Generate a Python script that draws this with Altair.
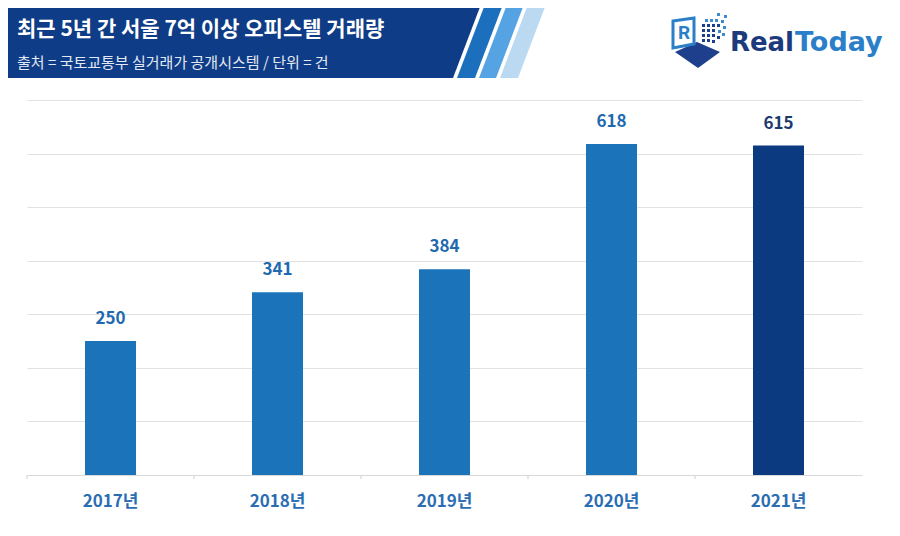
import altair as alt
import pandas as pd

# ---- data ----
years = ["2017년", "2018년", "2019년", "2020년", "2021년"]
counts = [250, 341, 384, 618, 615]
bar_colors = ["#1b74ba", "#1b74ba", "#1b74ba", "#1b74ba", "#0b3a80"]
label_colors = ["#2069b0", "#2069b0", "#2069b0", "#2069b0", "#1c3a6e"]
y_ticks = [0, 100, 200, 300, 400, 500, 600, 700]

title_text = "최근 5년 간 서울 7억 이상 오피스텔 거래량"
subtitle_text = "출처 = 국토교통부 실거래가 공개시스템 / 단위 = 건"
logo_a = "Real"
logo_b = "Today"
logo_r = "R"

df = pd.DataFrame({"year": years, "count": counts,
                   "bar_color": bar_colors, "label_color": label_colors})

W, H = 835, 375
FONT = "Noto Sans CJK KR"
STEP = W / len(years)

x_enc = alt.X("year:N", sort=years, title=None,
              scale=alt.Scale(paddingInner=0, paddingOuter=0),
              axis=alt.Axis(labelAngle=0, ticks=False, grid=False,
                            domainColor="#d9d9d9", domainWidth=1.2,
                            labelFont=FONT, labelFontSize=17,
                            labelFontWeight="bold", labelColor="#2a6db3",
                            labelPadding=18))
y_enc = alt.Y("count:Q", title=None, scale=alt.Scale(domain=[0, 700]),
              axis=alt.Axis(values=y_ticks, labels=False, ticks=False,
                            domain=False, grid=True, gridColor="#e2e2e2",
                            gridWidth=1.2))

base = alt.Chart(df)
bars = base.mark_bar(width=51).encode(
    x=x_enc, y=y_enc, color=alt.Color("bar_color:N", scale=None))
values = base.mark_text(baseline="middle", dy=-22, font=FONT, fontSize=17,
                        fontWeight="bold").encode(
    x=alt.X("year:N", sort=years), y="count:Q", text="count:Q",
    color=alt.Color("label_color:N", scale=None))
xticks = base.mark_rule(xOffset=-STEP / 2, color="#d6d6d6", strokeWidth=1.2).encode(
    x=alt.X("year:N", sort=years), y=alt.value(H), y2=alt.value(H + 4))


# ---- decorations (pixel positions relative to plot origin) ----
def shape(path, fill=None, stroke=None, sw=0, px=0, py=0):
    kw = dict(shape=path, size=4, opacity=1, strokeWidth=sw)
    if fill:
        kw.update(filled=True, fill=fill)
    else:
        kw.update(filled=False, fill="transparent", stroke=stroke)
    return alt.Chart(alt.Data(values=[{"k": 1}])).mark_point(**kw).encode(
        x=alt.value(px), y=alt.value(py))


def label(text, px, py, **kw):
    return alt.Chart(alt.Data(values=[{"t": text}])).mark_text(**kw).encode(
        x=alt.value(px), y=alt.value(py), text="t:N")


banner = shape("M-21,-93 L453,-93 L426,-22 L-21,-22 Z", fill="#0f3c86")
stripe1 = shape("M457,-93 L475,-93 L448,-22 L430,-22 Z", fill="#1c6fbd")
stripe2 = shape("M479,-93 L496,-93 L469,-22 L452,-22 Z", fill="#56a3e3")
stripe3 = shape("M500,-93 L518,-93 L491,-22 L473,-22 Z", fill="#bcd9f2")

title_l = label(title_text, -10, -70, align="left", baseline="middle", font=FONT,
                fontSize=21, fontWeight="bold", color="white")
sub_l = label(subtitle_text, -10, -37, align="left", baseline="middle", font=FONT,
              fontSize=15, color="#e3e9f3")

# logo
icon_face = shape("M-23,10 L-1,0 L22,10 L0,26 Z", fill="#1d3f8c", px=671, py=-58)
icon_box = shape("M-25,-21 L-4,-24 L-4,2 L-25,6 Z", stroke="#2a7fc8", sw=3,
                 px=671, py=-58)
icon_dots_a = shape(
    "M19,-29 h3 v3 h-3 Z M26,-27 h3 v3 h-3 Z "
    "M7,-23 h3 v3 h-3 Z M12,-23 h3 v3 h-3 Z M17,-23 h3 v3 h-3 Z M23,-22 h3 v3 h-3 Z "
    "M25,-16 h3 v3 h-3 Z M20,-12 h3 v3 h-3 Z M24,-9 h3 v3 h-3 Z",
    fill="#3b8bd0", px=671, py=-58)
icon_dots_b = shape(
    "M4,-18 h3 v3 h-3 Z M9,-18 h3 v3 h-3 Z M14,-18 h3 v3 h-3 Z M19,-18 h3 v3 h-3 Z "
    "M4,-13 h3 v3 h-3 Z M9,-13 h3 v3 h-3 Z M14,-13 h3 v3 h-3 Z "
    "M4,-8 h3 v3 h-3 Z M9,-8 h3 v3 h-3 Z M14,-8 h3 v3 h-3 Z M19,-6 h3 v3 h-3 Z "
    "M4,-3 h3 v3 h-3 Z M9,-3 h3 v3 h-3 Z M14,-2 h3 v3 h-3 Z",
    fill="#1d3f8c", px=671, py=-58)
icon_r = label(logo_r, 657, -67, align="center", baseline="middle", font="Roboto",
               fontSize=19, fontWeight="bold", color="#2a7fc8")
logo_real = label(logo_a, 767, -49, align="right", baseline="alphabetic",
                  font="DejaVu Sans", fontSize=26, fontWeight="bold", color="#1d3a7c")
logo_today = label(logo_b, 768, -49, align="left", baseline="alphabetic",
                   font="DejaVu Sans", fontSize=27, fontWeight="bold", color="#2b7fc8")

chart = alt.layer(
    banner, stripe1, stripe2, stripe3, title_l, sub_l,
    icon_face, icon_box, icon_dots_a, icon_dots_b, icon_r, logo_real, logo_today,
    bars, xticks, values,
).properties(
    width=W, height=H,
    autosize=alt.AutoSizeParams(type="none"),
    padding={"left": 19, "top": 92, "right": 30, "bottom": 40},
    background="white",
).configure_view(stroke=None)

chart.save("out.html", embed_options={"renderer": "svg", "actions": False})
